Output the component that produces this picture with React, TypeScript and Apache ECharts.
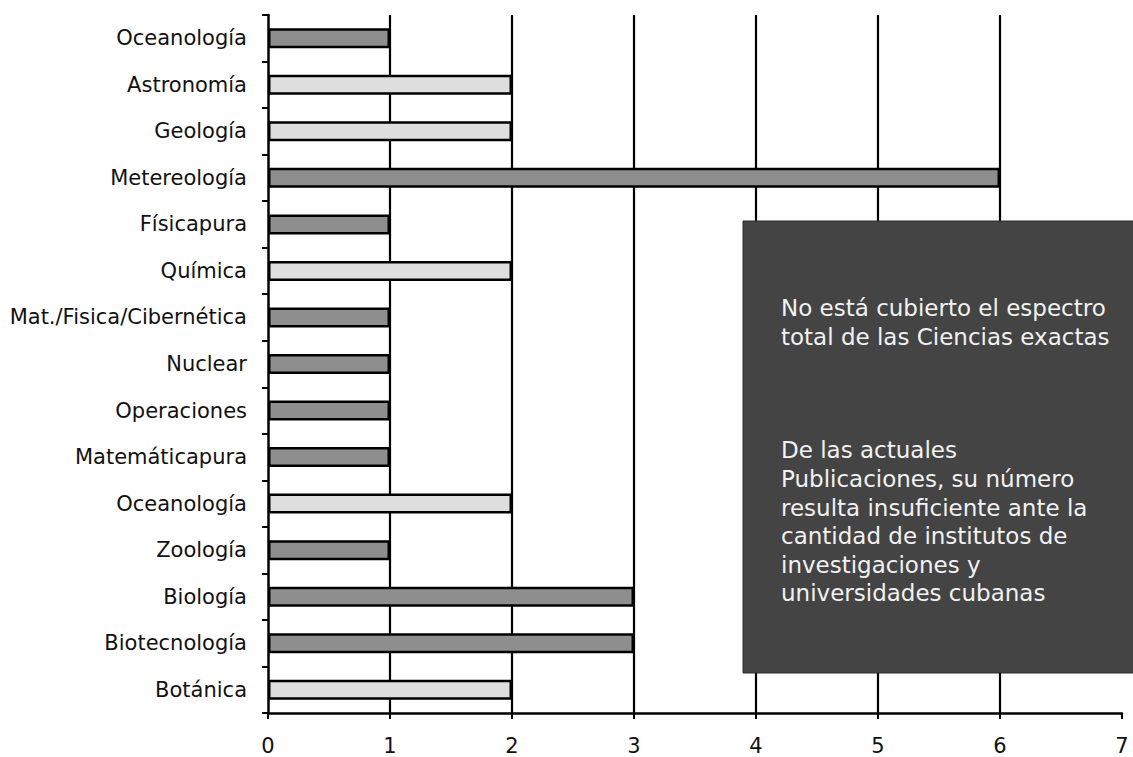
import React, { useEffect, useRef } from "react";
import * as echarts from "echarts";

// Disciplines, top to bottom
const categories = [
  "Oceanología",
  "Astronomía",
  "Geología",
  "Metereología",
  "Físicapura",
  "Química",
  "Mat./Fisica/Cibernética",
  "Nuclear",
  "Operaciones",
  "Matemáticapura",
  "Oceanología",
  "Zoología",
  "Biología",
  "Biotecnología",
  "Botánica",
];

// Number of publications per discipline, split by bar shade
const darkCounts = [1, null, null, 6, 1, null, 1, 1, 1, 1, null, 1, 3, 3, null];
const lightCounts = [null, 2, 2, null, null, 2, null, null, null, null, 2, null, null, null, 2];

const xTicks = [0, 1, 2, 3, 4, 5, 6, 7];

const noteTop = ["No está cubierto el espectro", "total de las Ciencias exactas"];
const noteBottom = [
  "De las actuales",
  "Publicaciones, su número",
  "resulta insuficiente ante la",
  "cantidad de institutos de",
  "investigaciones y",
  "universidades cubanas",
];

const FONT = "'DejaVu Sans', sans-serif";

export default function App() {
  const ref = useRef<HTMLDivElement>(null);

  useEffect(() => {
    if (!ref.current) return;
    const chart = echarts.init(ref.current, undefined, { renderer: "svg" });

    const barBase = {
      type: "bar",
      stack: "total",
      barWidth: 20,
      itemStyle: { borderColor: "#000", borderWidth: 2.5 },
      z: 3,
    };

    chart.setOption({
      animation: false,
      backgroundColor: "#fff",
      grid: { left: 268, right: 11, top: 15, bottom: 44, containLabel: false },
      xAxis: {
        type: "value",
        min: xTicks[0],
        max: xTicks[xTicks.length - 1],
        interval: 1,
        axisLine: { show: true, lineStyle: { color: "#000", width: 2.5 } },
        axisTick: { show: true, length: 6, lineStyle: { color: "#000", width: 2 } },
        axisLabel: { color: "#111", fontSize: 21, fontFamily: FONT, margin: 22 },
        splitLine: {
          show: true,
          showMinLine: false,
          showMaxLine: false,
          lineStyle: { color: "#000", width: 2.2 },
        },
      },
      yAxis: {
        type: "category",
        inverse: true,
        data: categories,
        axisLine: { show: true, lineStyle: { color: "#000", width: 2.5 } },
        axisTick: { show: true, length: 6, lineStyle: { color: "#000", width: 2 } },
        axisLabel: { color: "#111", fontSize: 21, fontFamily: FONT, margin: 21 },
        splitLine: { show: false },
      },
      series: [
        { ...barBase, name: "dark", data: darkCounts, itemStyle: { ...barBase.itemStyle, color: "#8e8e8e" } },
        { ...barBase, name: "light", data: lightCounts, itemStyle: { ...barBase.itemStyle, color: "#dedede" } },
      ],
      graphic: [
        {
          type: "rect",
          z: 100,
          zlevel: 1,
          shape: { x: 743, y: 221, width: 400, height: 452 },
          style: { fill: "#444444", stroke: "#2c2c2c", lineWidth: 1 },
        },
        {
          type: "text",
          z: 101,
          zlevel: 1,
          x: 781,
          y: 293,
          style: {
            text: noteTop.join("\n"),
            fill: "#f2f2f2",
            font: `23px ${FONT}`,
            lineHeight: 29,
            verticalAlign: "top",
          },
        },
        {
          type: "text",
          z: 101,
          zlevel: 1,
          x: 781,
          y: 436,
          style: {
            text: noteBottom.join("\n"),
            fill: "#f2f2f2",
            font: `23px ${FONT}`,
            lineHeight: 28.6,
            verticalAlign: "top",
          },
        },
      ],
    });

    return () => chart.dispose();
  }, []);

  return (
    <div
      ref={ref}
      style={{ position: "absolute", left: 0, top: 0, width: 1133, height: 757 }}
    />
  );
}
